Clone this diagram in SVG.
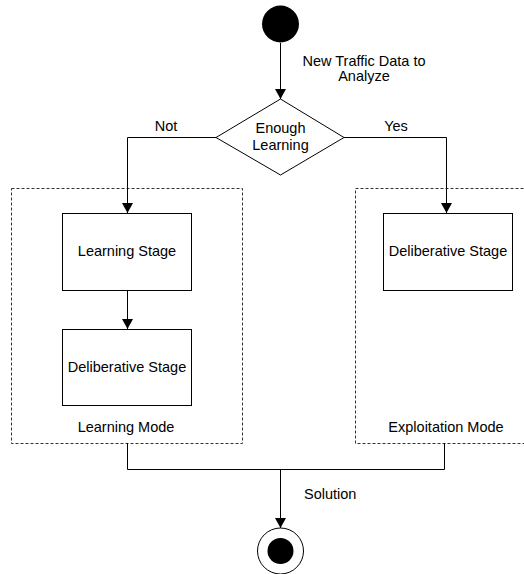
<svg xmlns="http://www.w3.org/2000/svg" width="524" height="574" viewBox="0 0 524 574">
<defs>
<marker id="arr" markerWidth="10" markerHeight="11" refX="10" refY="5.5" orient="auto" markerUnits="userSpaceOnUse">
<path d="M0,0 L10,5.5 L0,11 Z" fill="#000"/>
</marker>
<style>
text{font-family:"Liberation Sans",Arial,sans-serif;font-size:14.5px;fill:#000}
.box{fill:#fff;stroke:#000;stroke-width:1}
.frame{fill:none;stroke:#333;stroke-width:1;stroke-dasharray:3,2}
.con{fill:none;stroke:#000;stroke-width:1}
</style>
</defs>
<rect width="524" height="574" fill="#fff"/>
<g id="learning-mode">
<rect class="frame" x="11.5" y="188.5" width="231" height="255"/>
<text x="126" y="432" text-anchor="middle">Learning Mode</text>
</g>
<g id="exploitation-mode">
<rect class="frame" x="355.5" y="188.5" width="180" height="255"/>
<text x="446" y="432" text-anchor="middle">Exploitation Mode</text>
</g>
<g id="connectors">
<line class="con" x1="280.5" y1="43" x2="280.5" y2="99" marker-end="url(#arr)"/>
<polyline class="con" points="216,137.5 127.5,137.5 127.5,213" marker-end="url(#arr)"/>
<polyline class="con" points="344,137.5 446.5,137.5 446.5,213" marker-end="url(#arr)"/>
<line class="con" x1="127.5" y1="290" x2="127.5" y2="329" marker-end="url(#arr)"/>
<polyline class="con" points="127.5,443 127.5,469.5 444.5,469.5 444.5,443"/>
<line class="con" x1="280.5" y1="469.5" x2="280.5" y2="528" marker-end="url(#arr)"/>
<text x="364" y="66" text-anchor="middle">New Traffic Data to</text>
<text x="364" y="81" text-anchor="middle">Analyze</text>
<text x="166" y="131" text-anchor="middle">Not</text>
<text x="396" y="131" text-anchor="middle">Yes</text>
<text x="304" y="499">Solution</text>
</g>
<g id="start">
<circle cx="280.5" cy="24" r="18.5" fill="#000"/>
</g>
<g id="decision">
<polygon class="box" points="280.5,99 344,137.5 280.5,175 216,137.5"/>
<text x="280.5" y="133" text-anchor="middle">Enough</text>
<text x="280.5" y="150" text-anchor="middle">Learning</text>
</g>
<g id="learning-stage">
<rect class="box" x="62.5" y="213.5" width="129" height="77"/>
<text x="127" y="256" text-anchor="middle">Learning Stage</text>
</g>
<g id="deliberative-stage-left">
<rect class="box" x="62.5" y="329.5" width="129" height="76"/>
<text x="127" y="372" text-anchor="middle">Deliberative Stage</text>
</g>
<g id="deliberative-stage-right">
<rect class="box" x="383.5" y="213.5" width="129" height="77"/>
<text x="448" y="256" text-anchor="middle">Deliberative Stage</text>
</g>
<g id="end">
<circle cx="280.5" cy="551" r="23" fill="#fff" stroke="#000" stroke-width="1"/>
<circle cx="280.5" cy="551" r="13" fill="#000"/>
</g>
</svg>
